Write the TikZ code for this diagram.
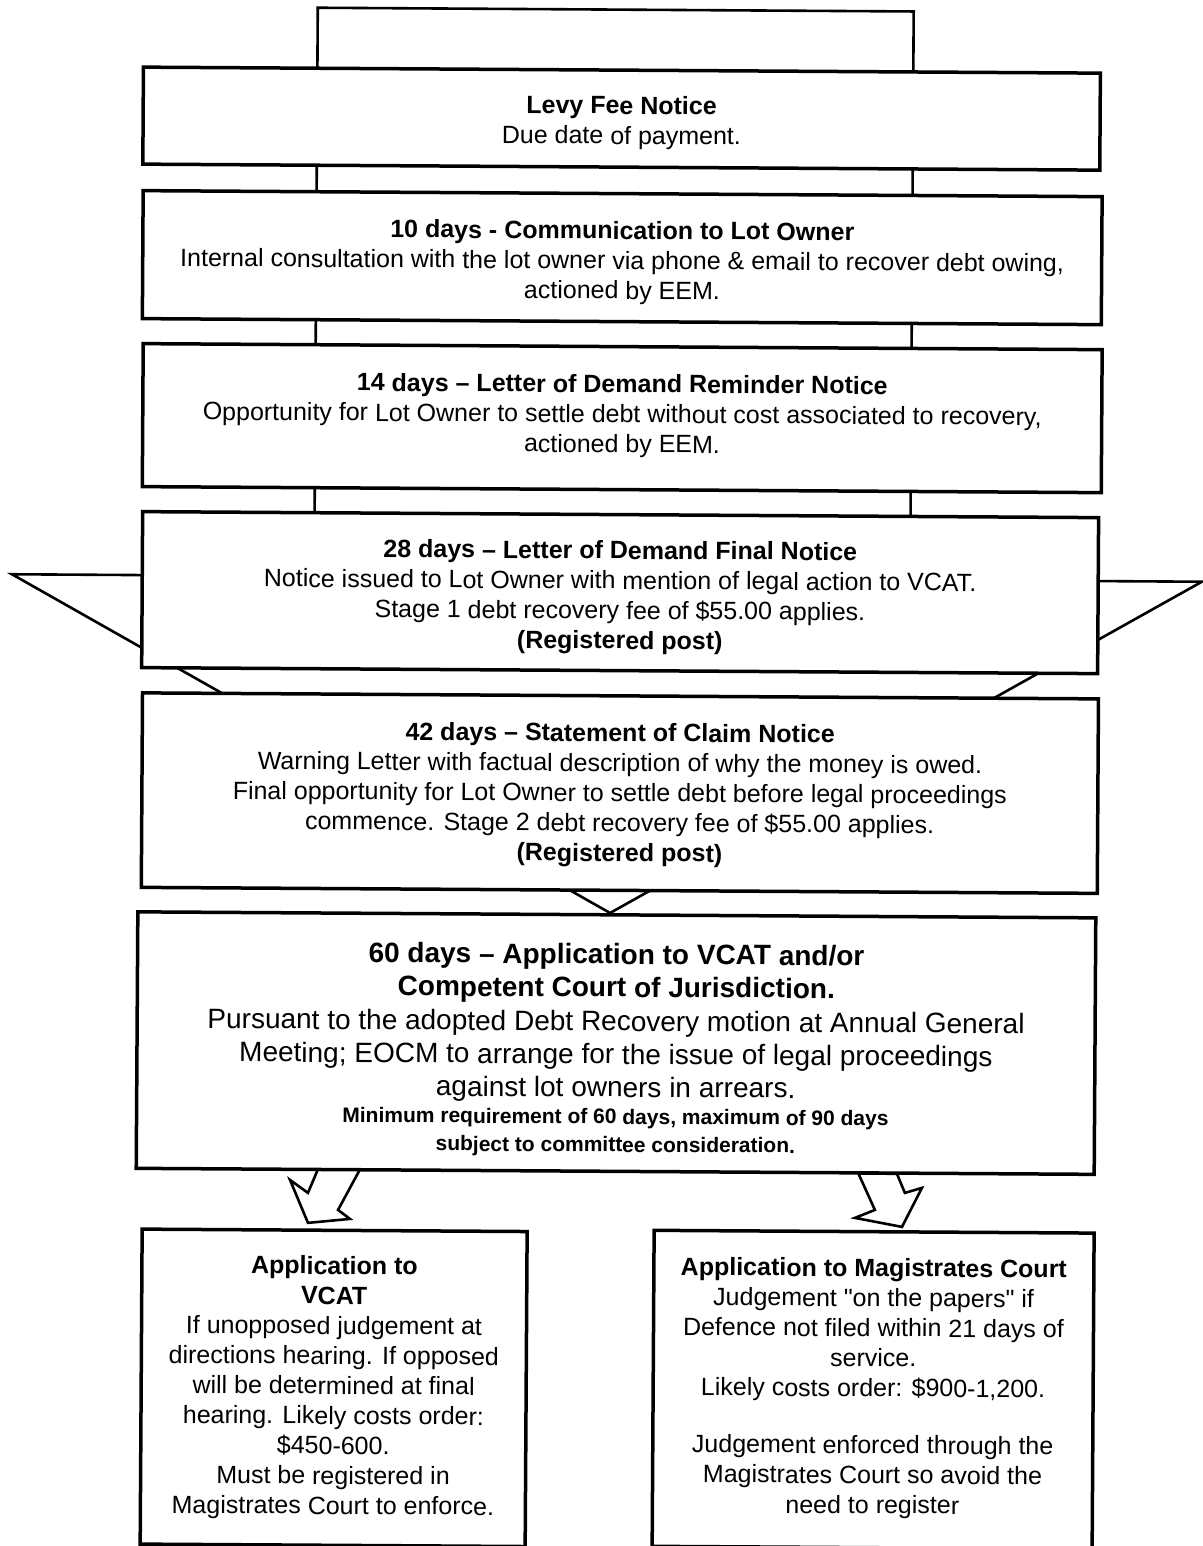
\documentclass[tikz,border=0pt]{standalone}
\usepackage{fontspec}
\newfontfamily\lsans{Liberation Sans}
\begin{document}
\begin{tikzpicture}[x=1pt,y=-1pt,
  box/.style={draw, line width=3.5pt, fill=white, inner sep=0pt},
  txt/.style={align=flush center, inner sep=0pt, font=\lsans\fontsize{25}{30}\selectfont},
  blockarrow/.style={draw, line width=2.6pt, fill=white, line join=miter, miter limit=4}]
\useasboundingbox (0,0) rectangle (1202,1546);
\begin{scope}[rotate around={-0.36:(601,773)}, transform shape]
% big block arrow behind the step boxes
\coordinate (sTL) at (313,9.5);
\coordinate (sTR) at (909,9.5);
\coordinate (hR) at (909,578);
\coordinate (wR) at (1200.8,578);
\coordinate (tip) at (611,913);
\coordinate (wL) at (10.7,578);
\coordinate (hL) at (313,578);
\draw[blockarrow] (sTL) -- (sTR) -- (hR) -- (wR) -- (tip) -- (wL) -- (hL) -- cycle;
% small bent arrows to the two outcomes
\coordinate (la1) at (320.5,1171);
\coordinate (la2) at (310.6,1194.8);
\coordinate (la3) at (292.6,1182);
\coordinate (la4) at (310.8,1224.8);
\coordinate (la5) at (352.8,1220.6);
\coordinate (la6) at (340.8,1211.7);
\coordinate (la7) at (362.5,1171);
\draw[blockarrow] (la1) -- (la2) -- (la3) -- (la4) -- (la5) -- (la6) -- (la7) -- cycle;
\coordinate (ra1) at (861,1172);
\coordinate (ra2) at (877.7,1208.3);
\coordinate (ra3) at (857.8,1216.4);
\coordinate (ra4) at (904.9,1225.1);
\coordinate (ra5) at (924.6,1186);
\coordinate (ra6) at (907.6,1191.1);
\coordinate (ra7) at (899.5,1172);
\draw[blockarrow] (ra1) -- (ra2) -- (ra3) -- (ra4) -- (ra5) -- (ra6) -- (ra7) -- cycle;
% step boxes
\node[box, minimum width=957pt, minimum height=97pt] (levy) at (617.5,118.5) {};
\node[txt, text width=940pt, yshift=-4pt] (levyT) at (levy)
  {\textbf{Levy Fee Notice}\\Due date of payment.};
\node[box, minimum width=959pt, minimum height=128pt] (d10) at (619,257.5) {};
\node[txt, text width=942pt, yshift=-5pt] (d10T) at (d10)
  {\textbf{10 days - Communication to Lot Owner}\\Internal consultation with the lot owner via phone \& email to recover debt owing,\\actioned by EEM.};
\node[box, minimum width=959pt, minimum height=143pt] (d14) at (620,418) {};
\node[txt, text width=942pt, yshift=2pt] (d14T) at (d14)
  {\textbf{14 days – Letter of Demand Reminder Notice}\\Opportunity for Lot Owner to settle debt without cost associated to recovery,\\actioned by EEM.};
\node[box, minimum width=956pt, minimum height=156pt] (d28) at (619,592.5) {};
\node[txt, text width=940pt, yshift=-5pt] (d28T) at (d28)
  {\textbf{28 days – Letter of Demand Final Notice}\\Notice issued to Lot Owner with mention of legal action to VCAT.\\Stage 1 debt recovery fee of \$55.00 applies.\\\textbf{(Registered post)}};
\node[box, minimum width=956pt, minimum height=194.5pt] (d42) at (620,793) {};
\node[txt, text width=940pt, yshift=-2pt] (d42T) at (d42)
  {\textbf{42 days – Statement of Claim Notice}\\Warning Letter with factual description of why the money is owed.\\Final opportunity for Lot Owner to settle debt before legal proceedings\\commence. Stage 2 debt recovery fee of \$55.00 applies.\\\textbf{(Registered post)}};
\node[box, minimum width=958pt, minimum height=256.5pt] (d60) at (617.7,1043) {};
\node[txt, text width=940pt, yshift=-7pt] (d60T) at (d60)
  {{\fontsize{28}{33}\selectfont\bfseries 60 days – Application to VCAT and/or\\Competent Court of Jurisdiction.\par}
   {\fontsize{28}{34}\selectfont Pursuant to the adopted Debt Recovery motion at Annual General\\[-1pt]Meeting; EOCM to arrange for the issue of legal proceedings\\[-1pt]against lot owners in arrears.\par}
   {\fontsize{21}{27}\selectfont\bfseries Minimum requirement of 60 days, maximum of 90 days\\[1pt]subject to committee consideration.\par}};
% outcome boxes
\node[box, minimum width=385pt, minimum height=315pt] (vcat) at (337.5,1389.5) {};
\node[txt, text width=370pt] (vcatT) at (vcat)
  {\textbf{Application to}\\\textbf{VCAT}\\If unopposed judgement at\\directions hearing. If opposed\\will be determined at final\\hearing. Likely costs order:\\\$450-600.\\Must be registered in\\Magistrates Court to enforce.};
\node[box, minimum width=440pt, minimum height=316pt] (mag) at (877,1388) {};
\node[txt, text width=425pt, yshift=1pt] (magT) at (mag)
  {\textbf{Application to Magistrates Court}\\Judgement "on the papers" if\\Defence not filed within 21 days of\\service.\\Likely costs order: \$900-1,200.\\[27pt]Judgement enforced through the\\Magistrates Court so avoid the\\need to register};
\end{scope}
\end{tikzpicture}
\end{document}
